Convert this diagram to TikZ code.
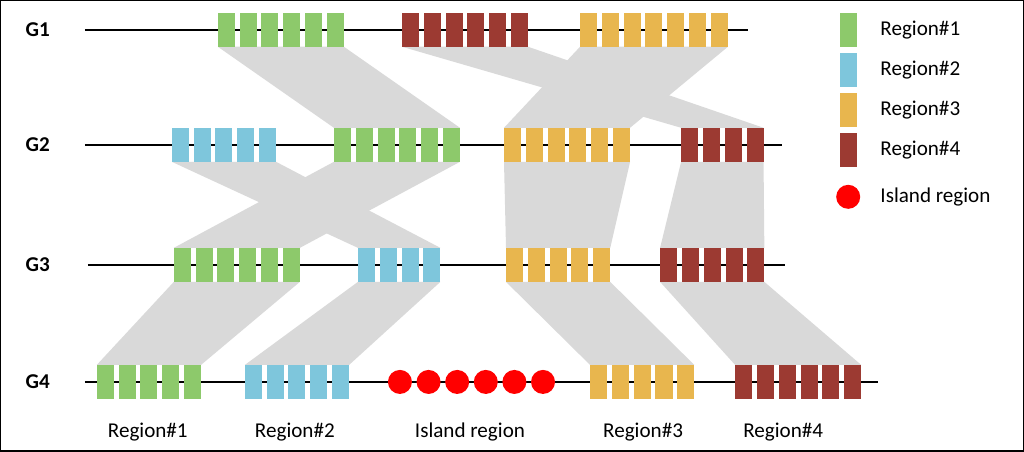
\documentclass[tikz,border=0pt]{standalone}
\usepackage{fontspec}
\setmainfont{Carlito}
\usetikzlibrary{backgrounds}
\definecolor{regA}{HTML}{8DC96B}
\definecolor{regB}{HTML}{7EC6DC}
\definecolor{regC}{HTML}{E8B64E}
\definecolor{regD}{HTML}{9C3A32}
\definecolor{bandgray}{HTML}{D9D9D9}
\tikzset{
  band/.style={fill=bandgray},
  axis/.style={line width=1.2pt},
  rowlab/.style={font=\bfseries\large},
  lab/.style={font=\large},
}
% name, colour, left x, count, row y
\newcommand\blk[5]{%
  \foreach \i in {1,...,#4}
    \fill[#2] ({#3+(\i-1)*21.8},{#5-17}) rectangle +(17,34);
  \coordinate (#1-tl) at (#3,{#5-17});
  \coordinate (#1-tr) at ({#3+(#4-1)*21.8+17},{#5-17});
  \coordinate (#1-bl) at (#3,{#5+17});
  \coordinate (#1-br) at ({#3+(#4-1)*21.8+17},{#5+17});}
\newcommand\band[2]{%
  \begin{scope}[on background layer]
    \fill[band] (#1-bl) -- (#1-br) -- (#2-tr) -- (#2-tl) -- cycle;
  \end{scope}}
\begin{document}
\begin{tikzpicture}[x=0.02cm,y=-0.02cm]
\draw[line width=0.8pt] (1,1) rectangle (1023,451);

% rows
\node[rowlab] (g1) at (38,30) {G1};
\node[rowlab] (g2) at (38,145) {G2};
\node[rowlab] (g3) at (38,265) {G3};
\node[rowlab] (g4) at (38,382) {G4};
\coordinate (l1a) at (85,30);  \coordinate (l1b) at (748,30);
\coordinate (l2a) at (85,145); \coordinate (l2b) at (782,145);
\coordinate (l3a) at (88,265); \coordinate (l3b) at (785,265);
\coordinate (l4a) at (85,382); \coordinate (l4b) at (878,382);
\draw[axis] (l1a) -- (l1b);
\draw[axis] (l2a) -- (l2b);
\draw[axis] (l3a) -- (l3b);
\draw[axis] (l4a) -- (l4b);

% blocks
\blk{a1}{regA}{218}{6}{30}
\blk{d1}{regD}{402}{6}{30}
\blk{c1}{regC}{580}{7}{30}
\blk{b2}{regB}{172}{5}{145}
\blk{a2}{regA}{334}{6}{145}
\blk{c2}{regC}{504}{6}{145}
\blk{d2}{regD}{681}{4}{145}
\blk{a3}{regA}{174}{6}{265}
\blk{b3}{regB}{358}{4}{265}
\blk{c3}{regC}{506}{5}{265}
\blk{d3}{regD}{660}{5}{265}
\blk{a4}{regA}{97}{5}{382}
\blk{b4}{regB}{245}{5}{382}
\blk{c4}{regC}{590}{5}{382}
\blk{d4}{regD}{735}{6}{382}
\foreach \i in {0,...,5}
  \fill[red] ({400+\i*28.6},382) circle (12);

% syntenic bands
\band{a1}{a2}
\band{d1}{d2}
\band{c1}{c2}
\band{b2}{b3}
\band{a2}{a3}
\band{c2}{c3}
\band{d2}{d3}
\band{a3}{a4}
\band{b3}{b4}
\band{c3}{c4}
\band{d3}{d4}

% bottom labels
\node[lab] (t1) at (148,432) {Region\#1};
\node[lab] (t2) at (295,432) {Region\#2};
\node[lab] (t3) at (470,432) {Island region};
\node[lab] (t4) at (643,432) {Region\#3};
\node[lab] (t5) at (783,432) {Region\#4};

% legend
\fill[regA] (840,13) rectangle +(17,34);
\fill[regB] (840,53) rectangle +(17,34);
\fill[regC] (840,93) rectangle +(17,34);
\fill[regD] (840,133) rectangle +(17,34);
\fill[red] (848,197) circle (12);
\node[lab,anchor=west] (k1) at (874,30) {Region\#1};
\node[lab,anchor=west] (k2) at (874,70) {Region\#2};
\node[lab,anchor=west] (k3) at (874,110) {Region\#3};
\node[lab,anchor=west] (k4) at (874,150) {Region\#4};
\node[lab,anchor=west] (k5) at (874,197) {Island region};
\end{tikzpicture}
\end{document}
